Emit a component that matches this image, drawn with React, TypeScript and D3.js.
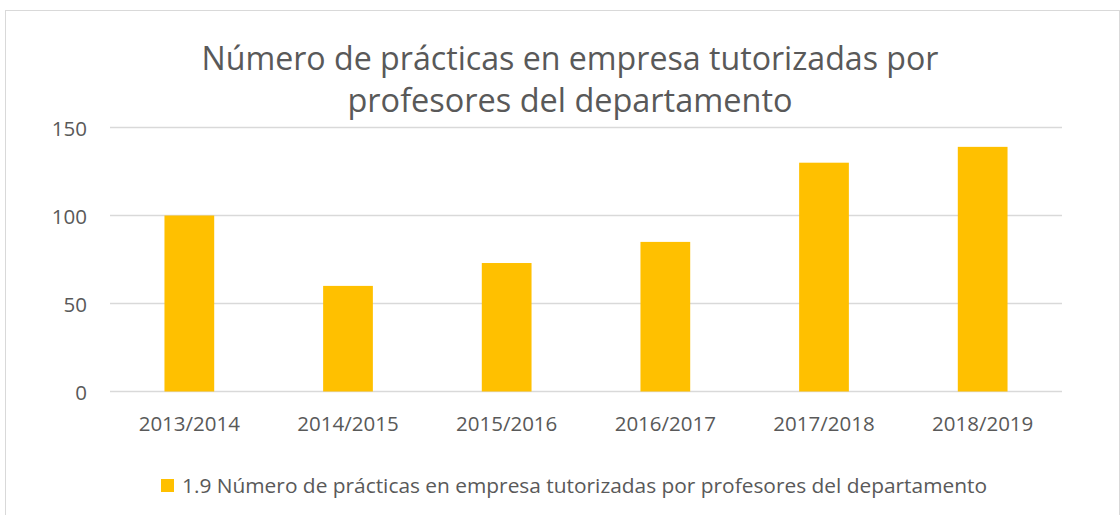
import React from "react";
import * as d3 from "d3";

const categories = ["2013/2014", "2014/2015", "2015/2016", "2016/2017", "2017/2018", "2018/2019"];
const values = [100, 60, 73, 85, 130, 139];
const yTicks = [0, 50, 100, 150];
const titleLines = ["Número de prácticas en empresa tutorizadas por", "profesores del departamento"];
const titleWidths = [737, 445];
const seriesName = "1.9 Número de prácticas en empresa tutorizadas por profesores del departamento";

const W = 1120;
const H = 515;
const FONT = "'Open Sans', sans-serif";
const TEXT = "#595959";
const BAR = "#FFC000";

export default function App() {
  const margin = { left: 110, right: 1062, top: 127.5, bottom: 391.5 };
  const x = d3.scaleBand<string>().domain(categories).range([margin.left, margin.right]).paddingInner(0.687).paddingOuter(0.3435);
  const y = d3.scaleLinear().domain([0, 150]).range([margin.bottom, margin.top]);
  const step = x.step();
  const bw = step / 3.19;

  return (
    <div style={{ position: "absolute", left: 0, top: 0 }}>
      <svg width={W} height={H} style={{ display: "block", background: "#fff" }}>
        <rect x={5.5} y={10.5} width={1114} height={520} fill="#fff" stroke="#d9d9d9" strokeWidth={1} />
        {titleLines.map((t, i) => (
          <text key={i} x={570} y={70 + i * 42} textAnchor="middle" fontFamily={FONT} fontSize={32} fill={TEXT}
            textLength={titleWidths[i]} lengthAdjust="spacingAndGlyphs">
            {t}
          </text>
        ))}
        {yTicks.map((v) => (
          <g key={v}>
            <line x1={margin.left} x2={margin.right} y1={y(v)} y2={y(v)} stroke="#d9d9d9" strokeWidth={1.3} />
            <text x={87} y={y(v) + 8} textAnchor="end" fontFamily={FONT} fontSize={20.5} fill={TEXT}>
              {v}
            </text>
          </g>
        ))}
        {categories.map((c, i) => {
          const cx = (x(c) as number) + x.bandwidth() / 2;
          return (
            <g key={c}>
              <rect x={cx - bw / 2} y={y(values[i])} width={bw} height={y(0) - y(values[i])} fill={BAR} />
              <text x={cx} y={431} textAnchor="middle" fontFamily={FONT} fontSize={20.5} fill={TEXT}>
                {c}
              </text>
            </g>
          );
        })}
        <rect x={161} y={479} width={13} height={13} fill={BAR} />
        <text x={182} y={493} fontFamily={FONT} fontSize={20.5} fill={TEXT} textLength={805} lengthAdjust="spacingAndGlyphs">
          {seriesName}
        </text>
      </svg>
    </div>
  );
}
